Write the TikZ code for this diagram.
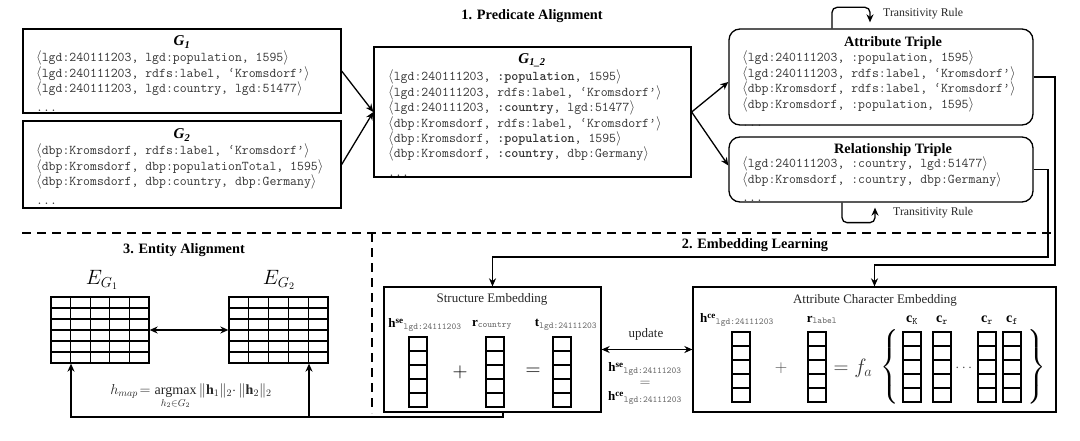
\documentclass[tikz,border=0pt]{standalone}
\usepackage{amsmath}
\usepackage{fontspec}
\setmainfont{Liberation Serif}
\usetikzlibrary{arrows.meta}
\newcommand\tla{$\langle$}
\newcommand\tra{$\rangle$}
\begin{document}
\begin{tikzpicture}[x=1pt,y=-1pt,
  box/.style={draw, line width=1.3pt, inner sep=0pt},
  rbox/.style={box, rounded corners=11pt},
  ttl/.style={font=\fontsize{14.3}{16}\selectfont\bfseries, inner sep=0pt},
  gttl/.style={font=\fontsize{15}{16}\selectfont\bfseries\itshape, inner sep=0pt},
  trip/.style={font=\fontsize{13.4}{14.3}\selectfont\ttfamily, text=black!80, align=left, anchor=north west, inner sep=0pt},
  lbl/.style={font=\fontsize{13}{15}\selectfont, text=black!85, inner sep=0pt},
  small/.style={font=\fontsize{11.8}{13}\selectfont, text=black!85, inner sep=0pt},
  mlbl/.style={font=\fontsize{14}{16}\selectfont, inner sep=0pt},
  sublbl/.style={font=\fontsize{13}{15}\selectfont, inner sep=0pt},
  arr/.style={line width=1.3pt, -{Stealth[length=8pt,width=7pt]}},
  darr/.style={line width=1.3pt, {Stealth[length=8pt,width=7pt]}-{Stealth[length=8pt,width=7pt]}},
  dsh/.style={line width=1.4pt, dash pattern=on 9pt off 6pt},
  colvec/.pic={\draw[line width=1.2pt] (0,0) rectangle (18,70);
    \foreach \k in {1,...,4} \draw[line width=1.2pt] (0,14*\k) -- (18,14*\k);},
]
\useasboundingbox (0,0) rectangle (1080,441);

% ---- Titles
\node[ttl] (t1) at (532,16) {1. Predicate Alignment};
\node[ttl] (t2) at (755,245) {2. Embedding Learning};
\node[ttl] (t3) at (184,250) {3. Entity Alignment};

% ---- G1
\node[box, minimum width=318pt, minimum height=84pt] (g1) at (182,71) {};
\node[gttl] (g1t) at (182,42) {G\textsubscript{1}};
\node[trip] (g1c) at (36,51) {\tla lgd:240111203, lgd:population, 1595\tra\\
\tla lgd:240111203, rdfs:label, ‘Kromsdorf’\tra\\
\tla lgd:240111203, lgd:country, lgd:51477\tra\\[4pt]
...};

% ---- G2
\node[box, minimum width=318pt, minimum height=87pt] (g2) at (182,164.5) {};
\node[gttl] (g2t) at (182,135) {G\textsubscript{2}};
\node[trip] (g2c) at (36,144) {\tla dbp:Kromsdorf, rdfs:label, ‘Kromsdorf’\tra\\
\tla dbp:Kromsdorf, dbp:populationTotal, 1595\tra\\
\tla dbp:Kromsdorf, dbp:country, dbp:Germany\tra\\[4pt]
...};

% ---- G1_2
\node[box, minimum width=317pt, minimum height=130pt] (g12) at (532.5,112) {};
\node[gttl] (g12t) at (532,60) {G\textsubscript{1\_2}};
\node[trip] (g12c) at (388,70) {\tla lgd:240111203, \textbf{:population}, 1595\tra\\
\tla lgd:240111203, rdfs:label, ‘Kromsdorf’\tra\\
\tla lgd:240111203, \textbf{:country}, lgd:51477\tra\\
\tla dbp:Kromsdorf, rdfs:label, ‘Kromsdorf’\tra\\
\tla dbp:Kromsdorf, \textbf{:population}, 1595\tra\\
\tla dbp:Kromsdorf, \textbf{:country}, dbp:Germany\tra\\[4pt]
...};

% ---- Attribute triple
\node[rbox, minimum width=304pt, minimum height=96pt] (attr) at (881,77) {};
\node[ttl] (attrt) at (893,43) {Attribute Triple};
\node[trip] (attrc) at (742,51) {\tla lgd:240111203, :population, 1595\tra\\
\tla lgd:240111203, rdfs:label, ‘Kromsdorf’\tra\\
\tla dbp:Kromsdorf, rdfs:label, ‘Kromsdorf’\tra\\
\tla dbp:Kromsdorf, :population, 1595\tra\\[4pt]
...};

% ---- Relationship triple
\node[rbox, minimum width=304pt, minimum height=65pt] (rel) at (881,169.5) {};
\node[ttl] (relt) at (893,150) {Relationship Triple};
\node[trip] (relc) at (742,157) {\tla lgd:240111203, :country, lgd:51477\tra\\
\tla dbp:Kromsdorf, :country, dbp:Germany\tra\\[4pt]
...};

% ---- Transitivity rules
\node[small, anchor=west] (tr1) at (883,14) {Transitivity Rule};
\node[small, anchor=west] (tr2) at (893,213) {Transitivity Rule};
\draw[arr, rounded corners=5pt] ([xshift=-49pt]attr.north) -- ++(0,-21) -- ++(38,0) -- ++(0,15);
\draw[arr, rounded corners=5pt] ([xshift=-39pt]rel.south) -- ++(0,20) -- ++(33,0) -- ++(0,-15);

% ---- Arrows top
\draw[arr] (g1.east) -- (g12.west);
\draw[arr] (g2.east) -- (g12.west);
\draw[arr] (g12.east) -- ([yshift=-5pt]attr.west);
\draw[arr] (g12.east) -- ([yshift=4pt]rel.west);

% ---- Dashed separators
\draw[dsh] (22,233) -- (1053,233);
\draw[dsh] (372,233) -- (372,413);

% ---- Structure embedding
\node[box, minimum width=217pt, minimum height=125pt] (se) at (492.5,349.5) {};
\node[lbl] (set) at (492,299) {Structure Embedding};
\node[sublbl] (seh) at (425,325) {$\mathbf{h}^{\mathbf{se}}{}_{\text{\ttfamily\color{black!60}lgd:24111203}}$};
\node[sublbl] (ser) at (492,325) {$\mathbf{r}_{\text{\ttfamily\color{black!60}country}}$};
\node[sublbl] (set2) at (566,325) {$\mathbf{t}_{\text{\ttfamily\color{black!60}lgd:24111203}}$};
\pic at (409,337) {colvec};
\pic at (486,337) {colvec};
\pic at (553,337) {colvec};
\node[font=\fontsize{22}{24}\selectfont, inner sep=0pt] (seplus) at (460,372) {$+$};
\node[font=\fontsize{22}{24}\selectfont, inner sep=0pt] (seeq) at (533,372) {$=$};

% ---- Attribute character embedding
\node[box, minimum width=363pt, minimum height=125pt] (ace) at (874.5,349.5) {};
\node[lbl] (acet) at (875,300) {Attribute Character Embedding};
\node[sublbl] (aceh) at (737,320) {$\mathbf{h}^{\mathbf{ce}}{}_{\text{\ttfamily\color{black!60}lgd:24111203}}$};
\node[sublbl] (acer) at (822,320) {$\mathbf{r}_{\text{\ttfamily\color{black!60}label}}$};
\node[mlbl] (c1) at (912,320) {$\mathbf{c}_{\text{\ttfamily K}}$};
\node[mlbl] (c2) at (942,320) {$\mathbf{c}_{\text{\ttfamily r}}$};
\node[mlbl] (c3) at (987,320) {$\mathbf{c}_{\text{\ttfamily r}}$};
\node[mlbl] (c4) at (1012,320) {$\mathbf{c}_{\text{\ttfamily f}}$};
\pic at (732,332) {colvec};
\pic at (808,332) {colvec};
\pic at (903,332) {colvec};
\pic at (933,332) {colvec};
\pic at (978,332) {colvec};
\pic at (1003,332) {colvec};
\node[font=\fontsize{17}{20}\selectfont, text=black!70, inner sep=0pt] (aceplus) at (781,368) {$+$};
\node[font=\fontsize{20}{24}\selectfont, text=black!80, inner sep=0pt] (aceeq) at (853,368) {$=f_a$};
\node[font=\fontsize{22}{24}\selectfont, inner sep=0pt] (lbr) at (890,367) {$\left\{\vrule height 31pt depth 31pt width 0pt\right.$};
\node[font=\fontsize{22}{24}\selectfont, inner sep=0pt] (rbr) at (1036,367) {$\left.\vrule height 31pt depth 31pt width 0pt\right\}$};
\node[font=\fontsize{14}{16}\selectfont, text=black!70, inner sep=0pt] (cdots) at (965,368) {$\cdots$};

% ---- update
\draw[darr] (se.east) -- (ace.west);
\node[lbl] (upd) at (646,334) {update};
\node[sublbl] (uh1) at (645,369) {$\mathbf{h}^{\mathbf{se}}{}_{\text{\ttfamily\color{black!60}lgd:24111203}}$};
\node[mlbl, text=black!70] (ueq) at (645,384) {$=$};
\node[sublbl] (uh2) at (645,398) {$\mathbf{h}^{\mathbf{ce}}{}_{\text{\ttfamily\color{black!60}lgd:24111203}}$};

% ---- Connections down
\draw[arr] (attr.east) -- (1055,77) -- (1055,265) -| (ace.north);
\draw[arr] (rel.east) -- (1048,169.5) -- (1048,257) -| (se.north);

% ---- Entity alignment grids
\node[box, minimum width=98pt, minimum height=66pt] (e1) at (100,330) {};
\node[box, minimum width=99pt, minimum height=66pt] (e2) at (278.5,330) {};
\foreach \k in {1,...,4} {
  \draw[line width=1.2pt] (51+19.6*\k,297) -- (51+19.6*\k,363);
  \draw[line width=1.2pt] (229+19.8*\k,297) -- (229+19.8*\k,363);
}
\foreach \k in {1,...,5} {
  \draw[line width=1.2pt] (51,297+11*\k) -- (149,297+11*\k);
  \draw[line width=1.2pt] (229,297+11*\k) -- (328,297+11*\k);
}
\node[font=\fontsize{20}{22}\selectfont, inner sep=0pt] (e1l) at (102,280) {$E_{G_1}$};
\node[font=\fontsize{20}{22}\selectfont, inner sep=0pt] (e2l) at (279,280) {$E_{G_2}$};
\draw[darr] (e1.east) -- (e2.west);
\node[font=\fontsize{14}{16}\selectfont, text=black!85, inner sep=0pt, anchor=base] (form) at (191,394)
  {$h_{map}\!= \mathop{\mathrm{argmax}}\limits_{h_2\in G_2} \|\mathbf{h}_1\|_2{\cdot}\,\|\mathbf{h}_2\|_2$};
\draw[arr] ([xshift=10.5pt]se.south) |- (71,417) -- ([xshift=-29pt]e1.south);
\draw[arr] (309,417) -- ([xshift=30.5pt]e2.south);
\end{tikzpicture}
\end{document}
